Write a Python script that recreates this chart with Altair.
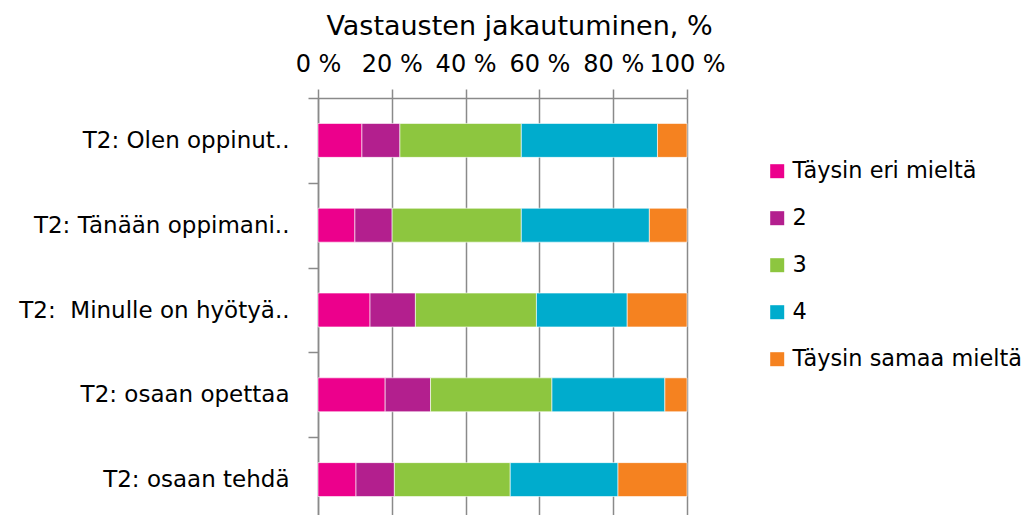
import altair as alt
import pandas as pd

categories = ["T2: Olen oppinut..", "T2: Tänään oppimani..", "T2: \u00a0Minulle on hyötyä..",
              "T2: osaan opettaa", "T2: osaan tehdä"]
levels = ["Täysin eri mieltä", "2", "3", "4", "Täysin samaa mieltä"]
colors = ["#EC008C", "#B31F8E", "#8DC63F", "#00ACCD", "#F58220"]

v_level1 = [11.9, 10.0, 14.1, 18.2, 10.3]
v_level2 = [10.3, 10.1, 12.3, 12.3, 10.4]
v_level3 = [32.9, 35.0, 32.8, 32.9, 31.4]
v_level4 = [36.9, 34.7, 24.6, 30.6, 29.2]
v_level5 = [8.0, 10.2, 16.2, 6.0, 18.7]

series = [v_level1, v_level2, v_level3, v_level4, v_level5]
rows = []
for li, (lvl, vals) in enumerate(zip(levels, series)):
    for c, v in zip(categories, vals):
        rows.append({"cat": c, "level": lvl, "order": li, "value": v})
df = pd.DataFrame(rows)

FONT = "DejaVu Sans"
GRID = "#8a8a8a"

chart = alt.Chart(df).mark_bar(stroke="white", strokeWidth=0.6, height={"band": 0.4}).encode(
    y=alt.Y("cat:N", sort=categories,
            scale=alt.Scale(paddingInner=0, paddingOuter=0),
            axis=alt.Axis(title=None, tickBand="extent", tickSize=10, tickColor=GRID,
                          tickWidth=1.5, domainColor=GRID, domainWidth=1.5,
                          labelFont=FONT, labelFontSize=23, labelColor="#000000",
                          labelPadding=19, labelLimit=500, grid=False)),
    x=alt.X("value:Q", stack="normalize",
            scale=alt.Scale(domain=[0, 1], nice=False),
            axis=alt.Axis(orient="top", title="Vastausten jakautuminen, %",
                          values=[0, 0.2, 0.4, 0.6, 0.8, 1.0],
                          labelExpr="format(datum.value*100, 'd') + ' %'",
                          labelFont=FONT, labelFontSize=24, labelColor="#000000",
                          labelOverlap=False, labelFlush=False, labelBound=False,
                          labelPadding=13, tickSize=9, tickColor=GRID, tickWidth=1.5,
                          domainColor=GRID, domainWidth=1.5,
                          grid=True, gridColor=GRID, gridWidth=1.5, gridOpacity=1,
                          titleFont=FONT, titleFontSize=27, titleFontWeight="normal",
                          titleColor="#000000", titlePadding=12,
                          titleX=201, titleAlign="center")),
    color=alt.Color("level:N", sort=levels,
                    scale=alt.Scale(domain=levels, range=colors),
                    legend=alt.Legend(title=None, orient="none", legendX=448, legendY=62,
                                      padding=0, symbolType="square", symbolSize=196,
                                      symbolStrokeWidth=0, symbolOpacity=1,
                                      labelFont=FONT, labelFontSize=22.4, labelColor="#000000",
                                      labelOffset=4, rowPadding=24, labelLimit=400)),
    order=alt.Order("order:Q"),
).properties(
    width=369, height=424,
    padding={"left": 10, "top": 4, "right": 0, "bottom": 0},
).configure_view(stroke=None)

chart.save("out.html", embed_options={"renderer": "svg", "actions": False})
